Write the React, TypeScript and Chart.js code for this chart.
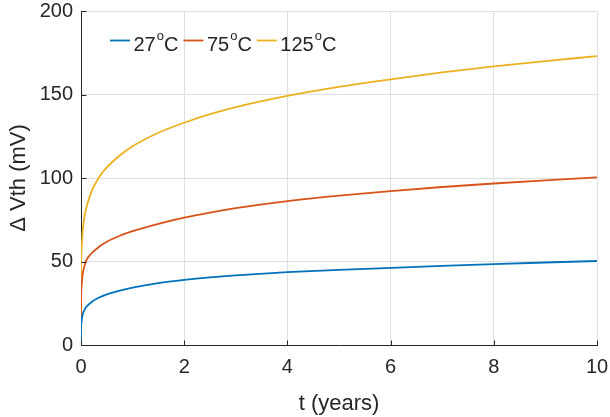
import React, { useEffect, useRef } from "react";
import { Chart, registerables } from "chart.js";

Chart.register(...registerables);

const tYears = [0, 0.002, 0.01, 0.03, 0.06, 0.1, 0.2, 0.35, 0.5, 0.75, 1, 1.5, 2, 2.5, 3, 4, 5, 6, 7, 8, 9, 10];
const dvth27 = [0, 10, 14, 18, 20.5, 22.7, 25.6, 28.4, 30.3, 32.6, 34.4, 37.1, 39, 40.5, 41.7, 43.6, 45, 46.2, 47.35, 48.4, 49.4, 50.3];
const dvth75 = [0, 27, 35, 42, 46.5, 50.5, 54.8, 58.8, 61.8, 65.4, 68.2, 72.6, 76.3, 79.3, 81.9, 86.1, 89.4, 92.2, 94.6, 96.7, 98.6, 100.4];
const dvth125 = [0, 43, 56.4, 67.3, 75.3, 81.8, 91.7, 100.4, 106.3, 113.5, 119, 127.1, 133.1, 138.2, 142.5, 149.2, 154.6, 159.1, 163.2, 166.8, 170, 173];

const legendTemps = ["27", "75", "125"];
const seriesColors = ["#0072BD", "#D95319", "#EDB120"];
const xTicks = [0, 2, 4, 6, 8, 10];
const yTicks = [0, 50, 100, 150, 200];

const FONT = "'Liberation Sans', Arial, Helvetica, sans-serif";
const TEXT = "#262626";

const inwardTicks = {
  id: "inwardTicks",
  afterDraw(chart: any) {
    const { ctx, scales } = chart;
    const xs = scales.x;
    const ys = scales.y;
    const area = chart.chartArea;
    ctx.save();
    ctx.strokeStyle = TEXT;
    ctx.lineWidth = 1;
    ctx.beginPath();
    xTicks.forEach((v) => {
      const px = Math.round(xs.getPixelForValue(v)) + 0.5;
      const by = Math.round(area.bottom) + 0.5;
      ctx.moveTo(px, by);
      ctx.lineTo(px, by - 5);
    });
    yTicks.forEach((v) => {
      const py = Math.round(ys.getPixelForValue(v)) + 0.5;
      const lx = Math.round(area.left) + 0.5;
      ctx.moveTo(lx, py);
      ctx.lineTo(lx + 5, py);
    });
    ctx.stroke();
    ctx.restore();
  },
};

const tempLegend = {
  id: "tempLegend",
  afterDraw(chart: any) {
    const { ctx } = chart;
    ctx.save();
    let x = 110;
    const lineY = 40.5;
    const baseY = 51;
    chart.data.datasets.forEach((ds: any, i: number) => {
      ctx.strokeStyle = ds.borderColor;
      ctx.lineWidth = 1.8;
      ctx.beginPath();
      ctx.moveTo(x, lineY);
      ctx.lineTo(x + 20, lineY);
      ctx.stroke();
      x += 23.5;
      ctx.fillStyle = TEXT;
      ctx.textBaseline = "alphabetic";
      ctx.textAlign = "left";
      ctx.font = `20px ${FONT}`;
      const num = legendTemps[i];
      ctx.fillText(num, x, baseY);
      x += ctx.measureText(num).width + 1;
      ctx.font = `13px ${FONT}`;
      ctx.fillText("o", x, baseY - 11);
      x += ctx.measureText("o").width;
      ctx.font = `20px ${FONT}`;
      ctx.fillText("C", x, baseY);
      x += ctx.measureText("C").width + 5;
    });
    ctx.restore();
  },
};

const zeroPad = (s: any) => {
  s.paddingTop = 0;
  s.paddingBottom = 0;
  s.paddingLeft = 0;
  s.paddingRight = 0;
};

export default function App() {
  const ref = useRef<HTMLCanvasElement>(null);
  useEffect(() => {
    document.body.style.margin = "0";
    const mk = (vals: number[]) => tYears.map((t, i) => ({ x: t, y: vals[i] }));
    const chart = new Chart(ref.current!, {
      type: "line",
      data: {
        datasets: [dvth27, dvth75, dvth125].map((vals, i) => ({
          label: legendTemps[i] + "\u1D52C",
          data: mk(vals),
          borderColor: seriesColors[i],
          backgroundColor: seriesColors[i],
          borderWidth: 1.8,
          pointRadius: 0,
          cubicInterpolationMode: "monotone" as const,
          fill: false,
        })),
      },
      options: {
        responsive: false,
        animation: false,
        events: [],
        layout: { padding: { top: 11, right: 13, left: 0, bottom: 0 } },
        plugins: { legend: { display: false }, tooltip: { enabled: false } },
        scales: {
          x: {
            type: "linear",
            min: 0,
            max: 10,
            afterFit: (s: any) => { s.height = 72; zeroPad(s); },
            afterBuildTicks: (s: any) => { s.ticks = xTicks.map((v) => ({ value: v })); },
            ticks: { color: TEXT, padding: 10, font: { family: FONT, size: 20, lineHeight: 1.2 } },
            grid: { color: "#dfdfdf", lineWidth: 1, drawTicks: false },
            border: { display: true, color: TEXT, width: 1 },
            title: { display: true, text: "t (years)", color: TEXT, padding: { top: 0, bottom: 0 }, font: { family: FONT, size: 22, lineHeight: 1.2 } },
          },
          y: {
            type: "linear",
            min: 0,
            max: 200,
            afterFit: (s: any) => { s.width = 81; zeroPad(s); },
            afterBuildTicks: (s: any) => { s.ticks = yTicks.map((v) => ({ value: v })); },
            ticks: { color: TEXT, padding: 8, font: { family: FONT, size: 20, lineHeight: 1 } },
            grid: { color: "#dfdfdf", lineWidth: 1, drawTicks: false },
            border: { display: true, color: TEXT, width: 1 },
            title: { display: true, text: "\u0394 Vth (mV)", color: TEXT, padding: { top: 6, bottom: 0 }, font: { family: FONT, size: 22, lineHeight: 1.2 } },
          },
        },
      },
      plugins: [inwardTicks, tempLegend],
    });
    return () => chart.destroy();
  }, []);
  return (
    <div style={{ width: 610, height: 417 }}>
      <canvas ref={ref} width={610} height={417} style={{ display: "block" }} />
    </div>
  );
}
